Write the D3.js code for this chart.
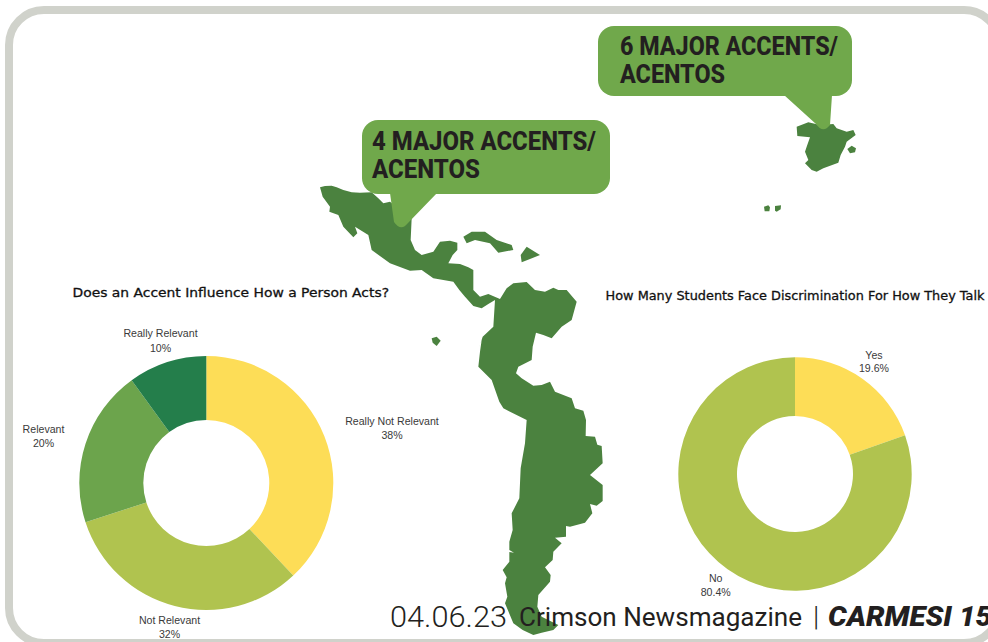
<!DOCTYPE html>
<html>
<head>
<meta charset="utf-8">
<script src="https://cdn.jsdelivr.net/npm/d3@7"></script>
<style>
  html, body { margin: 0; padding: 0; background: #fff; overflow: hidden; }
  svg { display: block; }
</style>
</head>
<body>
<svg id="chart" width="988" height="642"></svg>
<script>
// survey values
const actsTitle = 'Does an Accent Influence How a Person Acts?'
const actsLabels = ['Really Not Relevant', 'Not Relevant', 'Relevant', 'Really Relevant']
const actsValues = [38, 32, 20, 10]
const actsText = ['38%', '32%', '20%', '10%']
const actsColors = ['#fddd57', '#b0c34f', '#6ca44c', '#247e4b']

const talkTitle = 'How Many Students Face Discrimination For How They Talk'
const talkLabels = ['Yes', 'No']
const talkValues = [19.6, 80.4]
const talkText = ['19.6%', '80.4%']
const talkColors = ['#fddd57', '#b0c34f']

// map outlines, traced at 3x from crops of the picture
const crop1 = (p) => [p[0] / 3 + 300, p[1] / 3 + 100]
const crop2 = (p) => [p[0] / 3 + 420, p[1] / 3 + 340]
const crop3 = (p) => [p[0] / 3 + 590, p[1] / 3]

const americasEast = [[60,262],[75,258],[95,257],[110,262],[130,270],[155,277],[180,278],[215,277],[235,295],[250,310],[270,305],[300,330],[335,355],[332,420],[345,450],[365,465],[400,455],[420,425],[450,422],[472,428],[472,450],[458,465],[445,490],[480,492],[505,502],[520,510],[520,570],[540,590],[565,582],[600,597],[620,565],[640,550],[680,546],[705,570],[735,575],[760,563],[775,570],[800,570],[830,605],[815,660],[785,680],[755,715],[730,705],[708,698],[698,740],[695,780],[655,800],[648,820],[665,835],[700,857],[725,855],[750,845],[765,875],[815,895]]
const americasSouth = [[455,175],[465,205],[490,212],[498,240],[497,288],[525,290],[532,314],[545,318],[548,370],[510,405],[548,435],[548,483],[530,497],[510,492],[517,520],[495,548],[450,560],[438,558],[438,590],[405,593],[425,610],[400,635],[398,660],[375,682],[392,705],[390,725],[355,765],[352,800],[365,830],[415,855],[400,870],[365,878],[340,885],[308,870],[280,850],[255,790],[262,770],[255,730],[260,712],[248,690],[268,665],[268,636],[282,638],[268,630],[268,605],[278,570],[275,520],[298,475],[302,385],[315,310],[320,240],[250,205],[238,185],[215,120],[175,80],[180,35],[185,0]]
const americasWest = [[537,745],[548,710],[580,680],[585,600],[565,612],[545,625],[520,618],[495,590],[478,570],[460,545],[400,535],[365,510],[330,512],[270,490],[215,450],[205,405],[165,380],[172,400],[160,412],[130,380],[115,345],[88,335],[90,320],[68,290]]
const cuba = [[490,410],[515,395],[555,395],[590,420],[635,435],[640,450],[595,458],[570,430],[525,420],[500,430]]
const hispaniola = [[680,440],[720,465],[690,477],[665,487],[662,465]]
const galapagos = [[395,715],[410,710],[422,722],[410,738],[398,728]]
const spain = [[620,380],[655,367],[690,375],[730,372],[740,385],[770,395],[790,390],[797,405],[770,425],[765,440],[752,465],[745,488],[700,505],[680,515],[665,510],[645,490],[655,480],[645,455],[650,440],[660,412],[622,408]]
const balearic = [[772,447],[785,437],[798,445],[795,457],[780,460]]
const canaryA = [[522,620],[535,616],[540,622],[538,634],[524,634]]
const canaryB = [[555,618],[573,616],[572,628],[560,635],[555,632]]

const land = [
    [...americasEast.map(crop1), ...americasSouth.map(crop2), ...americasWest.map(crop1)],
    cuba.map(crop1), hispaniola.map(crop1), galapagos.map(crop1),
    spain.map(crop3), balearic.map(crop3), canaryA.map(crop3), canaryB.map(crop3)
]

const callouts = [
    {lines: ['4 MAJOR ACCENTS/', 'ACENTOS'], x: 362, y: 120, w: 248, h: 74, tail: [390, 437, 400, 228], tx: 372, len: [224, 108], base: [149.5, 178]},
    {lines: ['6 MAJOR ACCENTS/', 'ACENTOS'], x: 598, y: 26, w: 254, h: 70, tail: [784, 832, 822, 130], tx: 620, len: [218, 105], base: [55, 83]}
]

const svg = d3.select('#chart')
const mono = "Roboto, 'Liberation Sans', sans-serif"

// frame runs off the right and bottom of the page
svg.append('rect')
    .attr('x', 9).attr('y', 10)
    .attr('width', 990).attr('height', 633)
    .attr('rx', 35)
    .style('fill', '#fff')
    .style('stroke', '#d0d2cb')
    .style('stroke-width', 8)

let outline = d3.line().curve(d3.curveLinearClosed)
svg.append('g').selectAll('path')
    .data(land)
    .join('path')
    .attr('d', outline)
    .style('fill', '#4b823f')

// speech bubbles
let bubble = svg.append('g').selectAll('g')
    .data(callouts)
    .join('g')
bubble.append('rect')
    .attr('x', d => d.x).attr('y', d => d.y)
    .attr('width', d => d.w).attr('height', d => d.h)
    .attr('rx', 16)
    .style('fill', '#70a84b')
bubble.append('path')
    .attr('d', d => {
        let [a, b, tipX, tipY] = d.tail
        let y0 = d.y + d.h - 1
        return `M${a},${y0} L${tipX - 6},${tipY - 6} Q${tipX + 1},${tipY + 4} ${tipX + 8},${tipY - 5} L${b},${y0} Z`
    })
    .style('fill', '#70a84b')
bubble.each(function (d) {
    d3.select(this).selectAll('text')
        .data(d.lines)
        .join('text')
        .attr('x', d.tx)
        .attr('y', (t, i) => d.base[i])
        .attr('textLength', (t, i) => d.len[i])
        .attr('lengthAdjust', 'spacingAndGlyphs')
        .text(t => t)
        .style('font', `800 25px ${mono}`)
        .style('fill', '#231f20')
})

function donut (cx, cy, R, r, values, colors) {
    let pie = d3.pie().sort(null)
    let arc = d3.arc().innerRadius(r).outerRadius(R)
    svg.append('g')
        .attr('transform', `translate(${cx},${cy})`)
        .selectAll('path')
        .data(pie(values))
        .join('path')
        .attr('d', arc)
        .style('fill', (d, i) => colors[i])
}

donut(206.3, 483, 127, 63, actsValues, actsColors)
donut(795, 474, 116.7, 58, talkValues, talkColors)

function title (x, y, len, t) {
    svg.append('text')
        .attr('x', x).attr('y', y)
        .attr('textLength', len)
        .attr('lengthAdjust', 'spacingAndGlyphs')
        .text(t)
        .style('font', "12.5px 'DejaVu Sans', sans-serif")
        .style('fill', '#111')
        .style('stroke', '#111')
        .style('stroke-width', 0.3)
}
title(72.5, 296.7, 316.5, actsTitle)
title(605.5, 300, 379, talkTitle)

// label positions: center x, first baseline, second baseline
function sliceLabel (x, y0, y1, a, b) {
    let g = svg.append('g')
        .style('font', "10.6px 'Liberation Sans', sans-serif")
        .style('fill', '#3a3a3a')
        .style('text-anchor', 'middle')
    g.append('text').attr('x', x).attr('y', y0).text(a)
    g.append('text').attr('x', x).attr('y', y1).text(b)
}
sliceLabel(392, 425, 439, actsLabels[0], actsText[0])
sliceLabel(169.5, 624, 638, actsLabels[1], actsText[1])
sliceLabel(43.5, 433, 447, actsLabels[2], actsText[2])
sliceLabel(160.5, 337, 352, actsLabels[3], actsText[3])
sliceLabel(874, 358.5, 372, talkLabels[0], talkText[0])
sliceLabel(715.7, 582, 596, talkLabels[1], talkText[1])

// footer line, drawn over the map
let foot = svg.append('g').style('fill', '#231f20')
foot.append('text').attr('x', 390).attr('y', 627).text('04.06.23')
    .attr('textLength', 117).attr('lengthAdjust', 'spacingAndGlyphs')
    .style('font', `300 29px ${mono}`)
foot.append('text').attr('x', 519).attr('y', 626).text('Crimson Newsmagazine')
    .attr('textLength', 283).attr('lengthAdjust', 'spacingAndGlyphs')
    .style('font', `400 26px ${mono}`)
foot.append('text').attr('x', 813).attr('y', 626).text('|')
    .style('font', `300 28px ${mono}`)
foot.append('text').attr('x', 828).attr('y', 626).text('CARMESI 15')
    .attr('textLength', 164).attr('lengthAdjust', 'spacingAndGlyphs')
    .style('font', `italic 900 27px ${mono}`)
</script>
</body>
</html>
